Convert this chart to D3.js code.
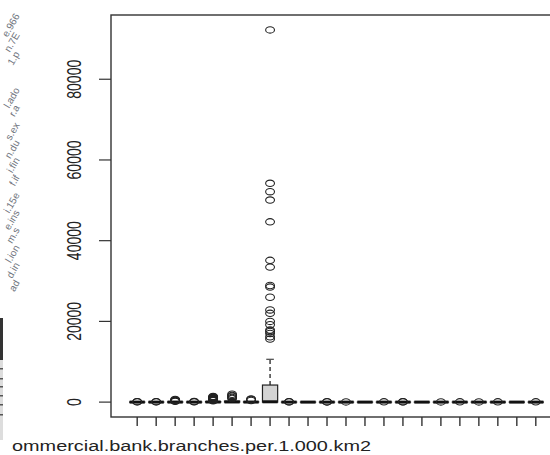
<!DOCTYPE html>
<html>
<head>
<meta charset="utf-8">
<script src="https://cdn.jsdelivr.net/npm/d3@7/dist/d3.min.js"></script>
<style>
  body { margin: 0; background: #fff; }
  svg { display: block; }
</style>
</head>
<body>
<div id="chart"></div>
<script>
// box summaries, one entry per column
var q1      = [0, 0, 0,  0, 0,   0,   0,  0,    0, 0, 0, 0, 0, 0, 0, 0, 0, 0, 0, 0, 0, 0];
var med     = [3, 2, 10, 3, 30,  40,  15, 80,   2, 1, 2, 2, 1, 2, 2, 1, 2, 2, 2, 2, 1, 2];
var q3      = [12, 10, 40, 12, 120, 250, 60, 4230, 8, 4, 8, 8, 4, 8, 8, 4, 8, 8, 8, 8, 4, 8];
var whiskLo = [0, 0, 0,  0, 0,   0,   0,  0,    0, 0, 0, 0, 0, 0, 0, 0, 0, 0, 0, 0, 0, 0];
var whiskHi = [30, 25, 100, 30, 280, 600, 150, 10620, 20, 10, 20, 20, 10, 20, 20, 10, 20, 20, 20, 20, 10, 20];
var outliers = [
  [70, 120],
  [60, 110],
  [200, 300, 420, 550, 650],
  [80, 140],
  [350, 450, 550, 650, 750, 850, 950, 1050, 1150, 1300, 1400],
  [900, 1150, 1450, 1650, 1950],
  [400, 650, 800],
  [15620, 16190, 17010, 17500, 17860, 19180, 20000, 21990, 22840, 25980, 28500, 28890,
   33450, 35120, 44660, 50060, 52130, 54220, 92230],
  [60, 100],
  [],
  [50, 90],
  [50],
  [],
  [60],
  [60, 90],
  [],
  [50],
  [60],
  [50],
  [60],
  [],
  [60]
];
var yTicks = [0, 20000, 40000, 60000, 80000];
var xLabel = "Commercial.bank.branches.per.1.000.km2";
// fragments of the neighbouring pane's rotated labels at the far left
var sideTop = ["e.966", "n.7E", "1.p"];
var sideLow = ["l.ado", "r.a", "s.ex", "n.du", "i.fin", "f.if", "i.15e", "e.ins", "m.s", "l.ion", "d.in", "ad"];

var svgWidth = 550, svgHeight = 455;
var margin = { top: 15, left: 111, bottom: 417, right: 562 };
var stretch = 1.42;   // the picture is wider than tall
var ink = "#222";

var svg = d3.select("#chart").append("svg")
  .attr("width", svgWidth)
  .attr("height", svgHeight);

svg.append("clipPath").attr("id", "pane")
  .append("rect").attr("x", 11).attr("y", 0).attr("width", svgWidth).attr("height", svgHeight);

// left strip
function sideLabels(list, y0, step) {
  svg.append("g").selectAll("text")
    .data(list)
    .enter()
    .append("text")
    .attr("transform", (d, i) => "translate(20," + (y0 + i * step) + ") rotate(-60)")
    .attr("text-anchor", "end")
    .attr("font-family", "Liberation Sans, Arial, sans-serif")
    .attr("font-size", 10)
    .attr("fill", "#6f747d")
    .text(d => d);
}
sideLabels(sideTop, 16, 19);
sideLabels(sideLow, 90, 17.5);

svg.append("rect").attr("x", 0).attr("y", 318).attr("width", 3).attr("height", 122).attr("fill", "#ddd");
svg.append("rect").attr("x", 0).attr("y", 318).attr("width", 3).attr("height", 42).attr("fill", "#333");
[368, 378, 386, 395, 404, 414].forEach(function(y) {
  svg.append("rect").attr("x", 0).attr("y", y).attr("width", 3).attr("height", 1.5).attr("fill", "#555");
});

var pane = svg.append("g").attr("clip-path", "url(#pane)");

var n = med.length;
var xScale = d3.scaleLinear()
  .domain([0.5 - 0.04 * n, n + 0.5 + 0.04 * n])
  .range([margin.left, margin.right]);

var allVals = d3.merge([q1, whiskHi, d3.merge(outliers)]);
var lo = d3.min(allVals), hi = d3.max(allVals);
var yScale = d3.scaleLinear()
  .domain([lo - 0.04 * (hi - lo), hi + 0.04 * (hi - lo)])
  .range([margin.bottom, margin.top]);

var boxW = 0.8 * (xScale(2) - xScale(1));
var idx = d3.range(n);

// whiskers (dashed)
pane.selectAll(".whisk")
  .data(idx)
  .enter()
  .append("path")
  .attr("d", i => "M" + xScale(i + 1) + "," + yScale(q3[i]) + "V" + yScale(whiskHi[i]) +
                  "M" + xScale(i + 1) + "," + yScale(q1[i]) + "V" + yScale(whiskLo[i]))
  .attr("stroke", ink)
  .attr("stroke-width", 1.3)
  .attr("stroke-dasharray", "4,3");

// staples
pane.selectAll(".staple")
  .data(idx)
  .enter()
  .append("path")
  .attr("d", i => "M" + (xScale(i + 1) - boxW / 4) + "," + yScale(whiskHi[i]) + "h" + boxW / 2 +
                  "M" + (xScale(i + 1) - boxW / 4) + "," + yScale(whiskLo[i]) + "h" + boxW / 2)
  .attr("stroke", ink)
  .attr("stroke-width", 1.2);

// boxes
pane.selectAll(".box")
  .data(idx)
  .enter()
  .append("rect")
  .attr("x", i => xScale(i + 1) - boxW / 2)
  .attr("y", i => yScale(q3[i]))
  .attr("width", boxW)
  .attr("height", i => yScale(q1[i]) - yScale(q3[i]))
  .attr("fill", "#d3d3d3")
  .attr("stroke", ink)
  .attr("stroke-width", 1.2);

// medians
pane.selectAll(".median")
  .data(idx)
  .enter()
  .append("line")
  .attr("x1", i => xScale(i + 1) - boxW / 2)
  .attr("x2", i => xScale(i + 1) + boxW / 2)
  .attr("y1", i => yScale(med[i]))
  .attr("y2", i => yScale(med[i]))
  .attr("stroke", "#111")
  .attr("stroke-width", 3);

// outliers
var pts = [];
outliers.forEach(function(list, i) {
  list.forEach(function(v) { pts.push({ i: i, v: v }); });
});
pane.selectAll(".out")
  .data(pts)
  .enter()
  .append("ellipse")
  .attr("cx", d => xScale(d.i + 1))
  .attr("cy", d => yScale(d.v))
  .attr("rx", 4.4)
  .attr("ry", 3.2)
  .attr("fill", "none")
  .attr("stroke", ink)
  .attr("stroke-width", 1.1);

// frame
pane.append("rect")
  .attr("x", margin.left)
  .attr("y", margin.top)
  .attr("width", margin.right - margin.left)
  .attr("height", margin.bottom - margin.top)
  .attr("fill", "none")
  .attr("stroke", "#333")
  .attr("stroke-width", 1.4);

// y axis ticks + labels
pane.selectAll(".ytick")
  .data(yTicks)
  .enter()
  .append("line")
  .attr("x1", margin.left - 12)
  .attr("x2", margin.left)
  .attr("y1", d => yScale(d))
  .attr("y2", d => yScale(d))
  .attr("stroke", "#333")
  .attr("stroke-width", 1.2);

pane.selectAll(".ylab")
  .data(yTicks)
  .enter()
  .append("text")
  .attr("transform", d => "translate(80.5," + yScale(d) + ") scale(" + stretch + ",1) rotate(-90)")
  .attr("text-anchor", "middle")
  .attr("font-family", "Liberation Sans, Arial, sans-serif")
  .attr("font-size", 14)
  .attr("fill", "#222")
  .text(d => d);

// x axis ticks
pane.selectAll(".xtick")
  .data(idx)
  .enter()
  .append("line")
  .attr("x1", i => xScale(i + 1))
  .attr("x2", i => xScale(i + 1))
  .attr("y1", margin.bottom)
  .attr("y2", margin.bottom + 9)
  .attr("stroke", "#333")
  .attr("stroke-width", 1.4);

// x label (its first letter falls behind the pane edge)
var lab = pane.append("text")
  .attr("font-family", "Liberation Sans, Arial, sans-serif")
  .attr("font-size", 14)
  .attr("fill", "#222")
  .text("C");
var cW = lab.node().getComputedTextLength() * stretch;
lab.text(xLabel)
  .attr("transform", "translate(" + (12 - cW) + ",451) scale(" + stretch + ",1)");
</script>
</body>
</html>
